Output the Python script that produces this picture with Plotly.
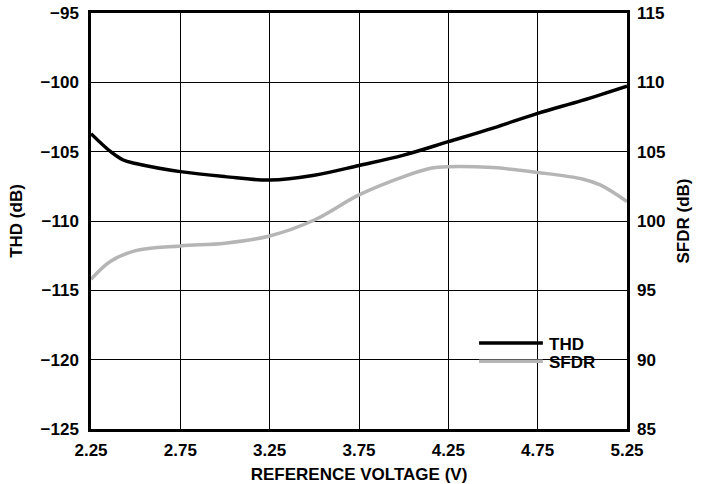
import plotly.graph_objects as go

voltage = [2.25, 2.36, 2.43, 2.5, 2.75, 3.0, 3.25, 3.5, 3.75, 4.0, 4.25, 4.5, 4.75, 5.0, 5.25]
thd = [-103.7, -105.0, -105.6, -105.85, -106.44, -106.8, -107.05, -106.7, -106.0, -105.25, -104.28, -103.3, -102.24, -101.3, -100.27]

sfdr_v = [2.25, 2.36, 2.5, 2.75, 3.0, 3.25, 3.5, 3.75, 4.0, 4.15, 4.25, 4.5, 4.75, 5.0, 5.1, 5.25]
sfdr = [95.8, 97.1, 97.86, 98.2, 98.4, 98.92, 100.07, 101.88, 103.2, 103.8, 103.92, 103.85, 103.5, 103.03, 102.6, 101.4]

x_ticks = [2.25, 2.75, 3.25, 3.75, 4.25, 4.75, 5.25]
thd_ticks = [-125, -120, -115, -110, -105, -100, -95]
sfdr_ticks = [85, 90, 95, 100, 105, 110, 115]

series_names = ["THD", "SFDR"]
series_colors = ["black", "#b5b5b5"]

FONT = "Liberation Sans"

def b(s):
    return f"<b>{s}</b>"

def num(v):
    return b(("\u2212" + str(abs(v))) if v < 0 else str(v))

fig = go.Figure()
fig.add_trace(go.Scatter(x=voltage, y=thd, name=series_names[0], mode="lines",
                         line=dict(color=series_colors[0], width=3.5, shape="spline"), yaxis="y"))
fig.add_trace(go.Scatter(x=sfdr_v, y=sfdr, name=series_names[1], mode="lines",
                         line=dict(color=series_colors[1], width=3.5, shape="spline"), yaxis="y2"))

axfont = dict(family=FONT, size=17, color="black", weight="bold")

# legend box (white patch hiding the grid) with key lines and labels
fig.add_shape(type="rect", xref="paper", yref="paper",
              x0=0.707, x1=0.963, y0=0.123, y1=0.238,
              fillcolor="white", line=dict(width=0), layer="between")
legend_y = [0.207, 0.163]
for name, color, ly in zip(series_names, series_colors, legend_y):
    fig.add_shape(type="line", xref="paper", yref="paper",
                  x0=0.724, x1=0.843, y0=ly, y1=ly,
                  line=dict(color=color, width=3.5))
    fig.add_annotation(xref="paper", yref="paper", x=0.851, y=ly - 0.004,
                       xanchor="left", yanchor="middle", showarrow=False,
                       text=b(name), font=dict(family=FONT, size=17, color="black"))

fig.update_layout(
    width=706, height=484,
    margin=dict(l=91, r=79, t=13, b=55),
    paper_bgcolor="white", plot_bgcolor="white",
    font=dict(family=FONT, color="black"),
    showlegend=False,
    xaxis=dict(range=[2.25, 5.25], tickvals=x_ticks, ticktext=[b(f"{v:.2f}") for v in x_ticks],
               showgrid=True, gridcolor="black", gridwidth=1,
               showline=True, linecolor="black", linewidth=2.5, mirror=True,
               ticks="", tickfont=axfont, ticklabelstandoff=4, automargin=False,
               title=dict(text=b("REFERENCE VOLTAGE (V)"), font=axfont, standoff=10),
               zeroline=False),
    yaxis=dict(range=[-125, -95], tickvals=thd_ticks, ticktext=[num(v) for v in thd_ticks],
               showgrid=True, gridcolor="black", gridwidth=1,
               showline=True, linecolor="black", linewidth=2.5, mirror=True,
               ticks="", tickfont=axfont, ticklabelstandoff=6, automargin=False,
               title=dict(text=b("THD (dB)"), font=axfont, standoff=14),
               zeroline=False),
    yaxis2=dict(range=[85, 115], tickvals=sfdr_ticks, ticktext=[num(v) for v in sfdr_ticks],
                overlaying="y", side="right",
                showgrid=False, showline=False, ticks="", tickfont=axfont, ticklabelstandoff=9,
                automargin=False,
                title=dict(text=b("SFDR (dB)"), font=axfont, standoff=12),
                zeroline=False),
)

fig.write_html("out.html")
